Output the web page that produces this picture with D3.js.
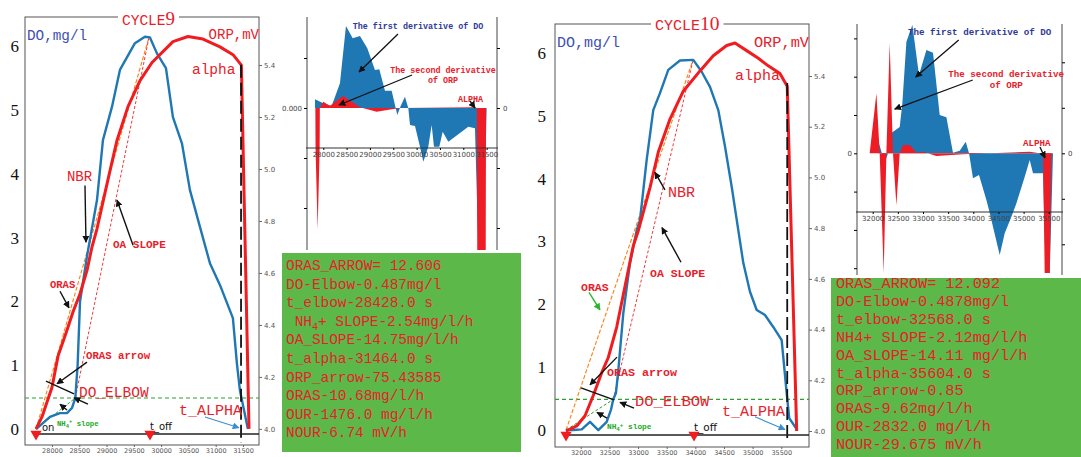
<!DOCTYPE html>
<html><head><meta charset="utf-8">
<script src="https://cdn.jsdelivr.net/npm/d3@7/dist/d3.min.js"></script>
<style>body{margin:0;background:#fff}svg{display:block}</style>
</head><body><svg id="c" width="1081" height="457"></svg>
<script>
// ================= DATA =================
const cycleNames = ["CYCLE9", "CYCLE10"];
const doTicks = [0, 1, 2, 3, 4, 5, 6];
const orpTicks = [4.0, 4.2, 4.4, 4.6, 4.8, 5.0, 5.2, 5.4];
const c9_xTicks = [28000, 28500, 29000, 29500, 30000, 30500, 31000, 31500];
const c10_xTicks = [32000, 32500, 33000, 33500, 34000, 34500, 35000, 35500];

// cycle 9 : DO (mg/l) and ORP (mV, scaled)
const c9_doT = [27708,27963,28147,28275,28366,28428,28470,28514,28640,28825,28934,29099,29245,29520,29703,29795,29923,30088,30216,30381,30527,30711,30894,31077,31315,31388,31443,31590];
const c9_doV = [0,0.19,0.25,0.25,0.33,0.49,1.0,2.0,2.7,3.59,4.53,5.05,5.63,6.05,6.15,6.14,5.89,5.66,4.89,4.48,3.75,3.17,2.60,2.26,1.74,1.03,0.61,0];
const c9_orpT = [27708,27817,28001,28111,28275,28385,28514,28642,28733,28825,29027,29191,29393,29613,29833,30217,30492,30767,31078,31317,31470,31610];
const c9_orpV = [4.0,4.046,4.16,4.28,4.38,4.45,4.52,4.61,4.70,4.77,4.96,5.11,5.24,5.34,5.41,5.49,5.51,5.50,5.47,5.44,5.40,4.0];
// cycle 9 derivatives
const c9_dDoT = [27822,28000,28179,28357,28486,28630,28786,28943,29107,29200,29322,29465,29586,29658,29750,29822,29858,29965,30072,30143,30250,30322,30372,30486,30558,30679,30822,30965,31107,31250,31322,31429,31500];
const c9_dDoV = [0.00087,0.00047,0.0002,0.00247,0.0082,0.00697,0.0072,0.00597,0.0038,0.00387,0.00173,0.00173,-0.0007,0.0002,0.00113,-0.00003,-0.0017,-0.0018,-0.00387,-0.00537,-0.00387,-0.0017,-0.00387,-0.00387,-0.00237,-0.00337,-0.00287,-0.00237,-0.00187,-0.00203,-0.014,-0.0145,0];
const c9_d2OrpT = [27830,27834,27879,27922,27926,28000,28143,28250,28429,28607,28786,29143,29465,29643,31250,31290,31300,31480,31486];
const c9_d2OrpV = [0,-0.67,-2.03,-0.67,0,0.105,0.033,0.105,0.2,0.105,0.012,-0.062,-0.022,0,0.012,0,-2.6,-2.6,0];

// cycle 10
const c10_doT = [31743,31870,32017,32162,32307,32453,32530,32568,32615,32656,32743,32860,32977,33034,33151,33266,33383,33528,33732,33964,34111,34256,34401,34518,34635,34750,34837,34954,35071,35216,35360,35507,35594,35639,35779];
const c10_doV = [0,0,0.01,0.13,0,0.13,0.33,0.49,0.59,0.95,1.86,2.66,3.18,3.34,4.30,5.09,5.36,5.73,5.88,5.89,5.70,5.46,5.09,4.51,3.87,3.18,2.66,2.20,1.91,1.83,1.64,1.43,0.59,0.19,0];
const c10_orpT = [31743,31930,32075,32219,32366,32481,32628,32772,32917,33005,33209,33354,33558,33790,34081,34313,34547,34692,34896,35099,35273,35477,35604,35769];
const c10_orpV = [4.0,4.02,4.06,4.14,4.23,4.29,4.41,4.57,4.73,4.79,4.96,5.10,5.23,5.34,5.42,5.48,5.52,5.53,5.50,5.47,5.44,5.41,5.36,4.0];
const c10_dDoT = [32105,32239,32304,32372,32537,32590,32670,32789,32920,33068,33199,33332,33465,33596,33730,33849,33915,33994,34113,34260,34312,34525,34624,34757,34857,35022,35121,35187,35386,35439,35519,35584];
const c10_dDoV = [0.00174,-0.00127,0,0.00265,0.00343,0.00656,0.01456,0.01674,0.01022,0.01348,0.01313,0.005,0.0047,0.00008,0.00034,0.00151,0,-0.00326,-0.00283,-0.0061,-0.0074,-0.01327,-0.01044,-0.00827,-0.00653,-0.00305,-0.00087,-0.00261,-0.00261,-0.01562,-0.01562,0];
const c10_d2OrpT = [31940,32074,32139,32219,32272,32338,32404,32471,32537,32602,32736,32869,33000,33266,33795,35121,35320,35386,35419,35519,35553];
const c10_d2OrpV = [0,1.32,0,-2.63,0,2.42,0,-1.14,0,0.18,0.18,0.01,0.035,-0.06,-0.02,0.035,0,0,-2.63,-2.63,0];

// key times / values
const c9_events = {tOn:27708, tOff:29796, tElbow:28428, doElbow:0.487, tPeak:29780, doPeak:6.15, tAlpha:31464};
const c10_events = {tOn:31744, tOff:33977, tElbow:32568, doElbow:0.4878, tPeak:33964, doPeak:5.90, tAlpha:35604};

// result boxes
const c9_results = ["ORAS_ARROW= 12.606","DO-Elbow-0.487mg/l","t_elbow-28428.0 s","NH4+ SLOPE-2.54mg/l/h","OA_SLOPE-14.75mg/l/h","t_alpha-31464.0 s","ORP_arrow-75.43585","ORAS-10.68mg/l/h","OUR-1476.0 mg/l/h","NOUR-6.74 mV/h"];
const c10_results = ["ORAS_ARROW= 12.092","DO-Elbow-0.4878mg/l","t_elbow-32568.0 s","NH4+ SLOPE-2.12mg/l/h","OA_SLOPE-14.11 mg/l/h","t_alpha-35604.0 s","ORP_arrow-0.85","ORAS-9.62mg/l/h","OUR-2832.0 mg/l/h","NOUR-29.675 mV/h"];

// ================= STYLE / LAYOUT =================
const RED = "#f01c20", TRED = "#e8202a", BLUE = "#1f77b4", LBLUE = "#3d4fb2", DBLUE = "#2e3a96";
const GREEN = "#2ca02c", ORANGE = "#ff7f0e", BOXG = "#5db84a";
const MONO = "'Liberation Mono','DejaVu Sans Mono',monospace";
const SANS = "'DejaVu Sans',sans-serif";
const SERIF = "'Liberation Serif','DejaVu Serif',serif";
const zip = (a, b) => a.map((d, i) => [d, b[i]]);

const svg = d3.select("#c");
const defs = svg.append("defs");
function marker(id, color) {
  defs.append("marker").attr("id", id).attr("viewBox", "0 0 10 10")
    .attr("refX", 9).attr("refY", 5).attr("markerUnits", "userSpaceOnUse")
    .attr("markerWidth", 7).attr("markerHeight", 7).attr("orient", "auto")
    .append("path").attr("d", "M0,0 L10,5 L0,10 z").attr("fill", color);
}
marker("ahK", "#111"); marker("ahB", "#3a8fd0"); marker("ahG", "#2db52d");

function txt(g, x, y, s, o = {}) {
  return g.append("text").attr("x", x).attr("y", y).text(s)
    .attr("font-family", o.font || MONO).attr("font-size", o.size || 12)
    .attr("font-weight", o.weight || "normal").attr("fill", o.color || TRED)
    .attr("text-anchor", o.anchor || "start");
}
function nh4(g, x, y, size, color, rest) {
  const t = g.append("text").attr("x", x).attr("y", y).attr("font-family", MONO)
    .attr("font-size", size).attr("font-weight", "bold").attr("fill", color);
  t.append("tspan").text("NH");
  t.append("tspan").text("4").attr("font-size", size * 0.75).attr("dy", size * 0.25);
  t.append("tspan").text("+").attr("font-size", size * 0.75).attr("dy", -size * 0.6);
  t.append("tspan").text(rest).attr("dy", size * 0.35);
  return t;
}

function mainPanel(p) {
  const g = svg.append("g");
  const x = d3.scaleLinear().domain(p.xDom).range([p.L, p.R]);
  const yD = d3.scaleLinear().domain(p.doDom).range([p.B, p.T]);
  const yO = d3.scaleLinear().domain(p.orpDom).range([p.B, p.T]);
  const ev = p.ev;
  g.append("rect").attr("x", p.L).attr("y", p.T).attr("width", p.R - p.L).attr("height", p.B - p.T)
    .attr("fill", "none").attr("stroke", "#555").attr("stroke-width", 1);
  // axes
  const la = g.append("g").attr("transform", `translate(${p.L},0)`)
    .call(d3.axisLeft(yD).tickValues(doTicks).tickSize(0).tickPadding(p.lpad).tickFormat(d3.format("d")));
  la.select(".domain").remove();
  la.selectAll("text").attr("font-family", SERIF).attr("font-size", p.lsize).attr("fill", "#111");
  const ra = g.append("g").attr("transform", `translate(${p.R},0)`)
    .call(d3.axisRight(yO).tickValues(orpTicks).tickSize(3).tickPadding(2).tickFormat(d3.format(".1f")));
  ra.select(".domain").remove();
  ra.selectAll("text").attr("font-family", SANS).attr("font-size", 7).attr("fill", "#555");
  ra.selectAll("line").attr("stroke", "#666");
  const ba = g.append("g").attr("transform", `translate(0,${p.B})`)
    .call(d3.axisBottom(x).tickValues(p.xTicks).tickSize(2).tickPadding(1).tickFormat(d3.format("d")));
  ba.select(".domain").remove();
  ba.selectAll("text").attr("font-family", SANS).attr("font-size", 6.5).attr("fill", "#555");
  ba.selectAll("line").attr("stroke", "#666");

  // reference lines
  g.append("line").attr("x1", p.L).attr("x2", p.R).attr("y1", yD(ev.doElbow)).attr("y2", yD(ev.doElbow))
    .attr("stroke", GREEN).attr("stroke-width", 1.1).attr("stroke-dasharray", "4,3");
  g.append("line").attr("x1", x(ev.tOn)).attr("x2", x(ev.tPeak)).attr("y1", yD(0)).attr("y2", yD(ev.doPeak))
    .attr("stroke", ORANGE).attr("stroke-width", 1.1).attr("stroke-dasharray", "4,2");
  g.append("line").attr("x1", x(ev.tElbow)).attr("x2", x(ev.tPeak)).attr("y1", yD(ev.doElbow)).attr("y2", yD(ev.doPeak))
    .attr("stroke", "#f03a3a").attr("stroke-width", 1).attr("stroke-dasharray", "3,2");
  g.append("line").attr("x1", x(ev.tOn)).attr("x2", x(ev.tElbow)).attr("y1", yD(0)).attr("y2", yD(ev.doElbow))
    .attr("stroke", GREEN).attr("stroke-width", 1).attr("stroke-dasharray", "3,2");

  // curves
  g.append("path").datum(zip(p.doT, p.doV)).attr("fill", "none").attr("stroke", BLUE).attr("stroke-width", 2.4)
    .attr("stroke-linejoin", "round").attr("d", d3.line().x(d => x(d[0])).y(d => yD(d[1])));
  g.append("path").datum(zip(p.orpT, p.orpV)).attr("fill", "none").attr("stroke", RED).attr("stroke-width", 3)
    .attr("stroke-linejoin", "round").attr("d", d3.line().x(d => x(d[0])).y(d => yO(d[1])));

  // alpha vertical dashed & base line
  g.append("line").attr("x1", x(ev.tAlpha)).attr("x2", x(ev.tAlpha)).attr("y1", yD(p.alphaTop)).attr("y2", yD(p.alphaBot))
    .attr("stroke", "#111").attr("stroke-width", 1.8).attr("stroke-dasharray", "13,5");
  g.append("line").attr("x1", x(ev.tOn)).attr("x2", p.R).attr("y1", yD(p.baseV)).attr("y2", yD(p.baseV))
    .attr("stroke", "#222").attr("stroke-width", 1.6);
  [ev.tOn, ev.tOff].forEach(t => {
    g.append("path").attr("d", d3.symbol(d3.symbolTriangle, 55)())
      .attr("transform", `translate(${x(t)},${yD(p.baseV)}) rotate(180)`).attr("fill", RED);
  });

  // arrows
  p.arrows.forEach(a => {
    const l = g.append("line").attr("x1", x(a[0])).attr("y1", yD(a[1])).attr("x2", x(a[2])).attr("y2", yD(a[3]))
      .attr("stroke", a[4] === "b" ? "#3a8fd0" : a[4] === "g" ? "#2db52d" : "#111")
      .attr("stroke-width", a[4] === "b" ? 1.1 : 1.4);
    if (a[4] !== "n") l.attr("marker-end", `url(#ah${a[4] === "b" ? "B" : a[4] === "g" ? "G" : "K"})`);
  });
  // labels
  p.labels.forEach(l => {
    if (l.nh4) nh4(g, x(l.t), yD(l.v), l.size, "#22aa22", " slope");
    else txt(g, x(l.t), yD(l.v), l.s, l);
  });

  // title with white background
  const bg = g.append("rect").attr("fill", "#fff");
  const tt = g.append("text").attr("x", x(p.titleT)).attr("y", yD(p.titleV)).attr("fill", TRED)
    .attr("font-family", MONO).attr("font-size", p.tsize);
  tt.append("tspan").text(p.name.replace(/\d+$/, ""));
  tt.append("tspan").text(p.name.match(/\d+$/)[0]).attr("font-family", SERIF).attr("font-size", p.tsize * 1.3);
  const bb = tt.node().getBBox();
  bg.attr("x", bb.x - 4).attr("y", p.T - 2).attr("width", bb.width + 8).attr("height", 4);
}

function inset(p) {
  const g = svg.append("g");
  const x = d3.scaleLinear().domain(p.xDom).range([p.L, p.R]);
  const y1 = d3.scaleLinear().domain([0, 0.005]).range([p.zero, p.zero - p.bstep]);
  const y2 = d3.scaleLinear().domain([0, 1]).range([p.zero, p.zero - p.rstep]);
  const cid = "clip" + p.id;
  defs.append("clipPath").attr("id", cid).append("rect").attr("x", p.L).attr("y", p.T).attr("width", p.R - p.L).attr("height", p.B - p.T);
  const pl = g.append("g").attr("clip-path", `url(#${cid})`);
  pl.append("path").datum(zip(p.dT, p.dV)).attr("fill", BLUE)
    .attr("d", d3.area().x(d => x(d[0])).y0(y1(0)).y1(d => y1(d[1])));
  pl.append("path").datum(zip(p.d2T, p.d2V)).attr("fill", "#ee1c25")
    .attr("d", d3.area().x(d => x(d[0])).y0(y2(0)).y1(d => y2(d[1])));
  // spines
  g.append("line").attr("x1", p.L).attr("x2", p.L).attr("y1", p.T).attr("y2", p.B).attr("stroke", "#444");
  g.append("line").attr("x1", p.R).attr("x2", p.R).attr("y1", p.T).attr("y2", p.B).attr("stroke", "#444");
  const ba = g.append("g").attr("transform", `translate(0,${p.axisY})`)
    .call(d3.axisBottom(x).tickValues(p.xTicks).tickSize(2).tickPadding(2).tickFormat(d3.format("d")));
  ba.select(".domain").attr("d", `M${p.L - 1},0H${p.R + 1}`).attr("stroke", "#333").attr("stroke-width", 1.2);
  ba.selectAll("text").attr("font-family", SANS).attr("font-size", 7).attr("fill", "#444");
  // left & right ticks
  const la = g.append("g").attr("transform", `translate(${p.L},0)`)
    .call(d3.axisLeft(y1).tickValues(p.lt).tickSize(3).tickPadding(2).tickFormat(d => d === 0 ? p.zlabel : ""));
  la.select(".domain").remove();
  la.selectAll("text").attr("font-family", SANS).attr("font-size", 7).attr("fill", "#444");
  const ra = g.append("g").attr("transform", `translate(${p.R},0)`)
    .call(d3.axisRight(y2).tickValues(p.rt).tickSize(3).tickPadding(3).tickFormat(d => d === 0 ? "0" : ""));
  ra.select(".domain").remove();
  ra.selectAll("text").attr("font-family", SANS).attr("font-size", 7).attr("fill", "#444");
  // annotations
  const fs = p.fs;
  txt(g, x(p.a1[0]), y1(p.a1[1]), "The first derivative of DO", {size: fs, weight: "bold", color: DBLUE, anchor: "middle"});
  txt(g, x(p.a2[0]), y1(p.a2[1]), "The second derivative", {size: fs, weight: "bold", anchor: "middle"});
  txt(g, x(p.a2[0]), y1(p.a2[2]), "of ORP", {size: fs, weight: "bold", anchor: "middle"});
  txt(g, x(p.a3[0]), y1(p.a3[1]), "ALPHA", {size: fs, weight: "bold", anchor: "middle"});
  p.arrows.forEach(a => {
    g.append("line").attr("x1", x(a[0])).attr("y1", y1(a[1])).attr("x2", x(a[2])).attr("y2", y1(a[3]))
      .attr("stroke", "#111").attr("stroke-width", 1.3).attr("marker-end", "url(#ahK)");
  });
}

function resultBox(b, lines) {
  const g = svg.append("g");
  g.append("rect").attr("x", b.x).attr("y", b.y).attr("width", b.w).attr("height", b.h).attr("fill", BOXG);
  lines.forEach((s, i) => {
    const yy = b.y0 + i * b.dy;
    if (b.sub && s.startsWith("NH4+")) {
      const t = g.append("text").attr("x", b.tx + b.size * 0.6).attr("y", yy).attr("font-family", MONO)
        .attr("font-size", b.size).attr("fill", TRED);
      t.append("tspan").text("NH");
      t.append("tspan").text("4").attr("font-size", b.size * 0.7).attr("dy", b.size * 0.3);
      t.append("tspan").text(s.slice(3)).attr("dy", -b.size * 0.3);
    } else {
      txt(g, b.tx, yy, s, {size: b.size});
    }
  });
}

// ================= PANELS =================
mainPanel({
  name: cycleNames[0], L: 25, R: 259, T: 17, B: 445, xDom: [27506, 31793], doDom: [-0.25, 6.46], orpDom: [3.938, 5.585],
  xTicks: c9_xTicks, doT: c9_doT, doV: c9_doV, orpT: c9_orpT, orpV: c9_orpV, ev: c9_events,
  alphaTop: 5.71, alphaBot: -0.22, baseV: -0.077, lpad: 6, lsize: 17, tsize: 14.5, titleT: 29283, titleV: 6.33,
  arrows: [[28605,3.82,28623,2.93,"k"],[29485,2.88,29191,3.59,"k"],[28147,2.16,28312,1.90,"k"],[28642,1.05,28092,0.71,"k"],
           [28660,0.39,28404,0.49,"k"],[28275,0.30,28147,0.39,"k"],[30804,0.19,31426,0.02,"b"],[27891,0.75,28404,0.55,"n"]],
  labels: [
    {s: "DO,mg/l", t: 27543, v: 6.10, size: 14.3, color: LBLUE},
    {s: "ORP,mV", t: 31793, v: 6.11, size: 14, anchor: "end"},
    {s: "alpha", t: 30565, v: 5.57, size: 14.5},
    {s: "NBR", t: 28275, v: 3.89, size: 14},
    {s: "OA SLOPE", t: 29118, v: 2.84, size: 11, weight: "bold"},
    {s: "ORAS", t: 27964, v: 2.21, size: 10.5, weight: "bold"},
    {s: "ORAS arrow", t: 28623, v: 1.10, size: 10.7, weight: "bold"},
    {s: "DO_ELBOW", t: 28495, v: 0.50, size: 14.5},
    {s: "t_ALPHA", t: 30327, v: 0.22, size: 15},
    {nh4: true, t: 28092, v: 0.05, size: 7.3},
    {s: "on", t: 27817, v: -0.03, size: 10, font: SANS, color: "#111"},
    {s: "t_off", t: 29796, v: -0.01, size: 10, font: SANS, color: "#111"}
  ]
});
mainPanel({
  name: cycleNames[1], L: 555, R: 809, T: 24, B: 447, xDom: [31551, 35984], doDom: [-0.27, 6.46], orpDom: [3.937, 5.605],
  xTicks: c10_xTicks, doT: c10_doT, doV: c10_doV, orpT: c10_orpT, orpV: c10_orpV, ev: c10_events,
  alphaTop: 5.52, alphaBot: -0.13, baseV: -0.08, lpad: 9, lsize: 17, tsize: 15, titleT: 33296, titleV: 6.37,
  arrows: [[33470,3.82,33296,4.10,"k"],[33750,2.67,33418,3.22,"k"],[32144,2.19,32336,1.91,"g"],[32633,1.16,32162,0.72,"k"],
           [32930,0.35,32685,0.44,"k"],[32458,0.19,32284,0.28,"k"],[35041,0.21,35564,0.01,"b"],[32005,0.67,32581,0.48,"n"]],
  labels: [
    {s: "DO,mg/l", t: 31586, v: 6.09, size: 15, color: LBLUE},
    {s: "ORP,mV", t: 35984, v: 6.09, size: 15.3, anchor: "end"},
    {s: "alpha", t: 34692, v: 5.57, size: 15},
    {s: "NBR", t: 33523, v: 3.71, size: 15},
    {s: "OA SLOPE", t: 33209, v: 2.43, size: 11.5, weight: "bold"},
    {s: "ORAS", t: 32005, v: 2.21, size: 11.5, weight: "bold"},
    {s: "ORAS arrow", t: 32458, v: 0.86, size: 11.7, weight: "bold"},
    {s: "DO_ELBOW", t: 32947, v: 0.38, size: 15.5},
    {s: "t_ALPHA", t: 34465, v: 0.22, size: 15},
    {nh4: true, t: 32458, v: 0.01, size: 7.8},
    {s: "t_off", t: 33977, v: -0.02, size: 10.5, font: SANS, color: "#111"}
  ]
});

inset({
  id: 1, L: 307, R: 497, T: 17, B: 250, axisY: 148, xDom: [27651, 31722], zero: 108, bstep: 50, rstep: 60,
  xTicks: c9_xTicks, dT: c9_dDoT, dV: c9_dDoV, d2T: c9_d2OrpT, d2V: c9_d2OrpV, zlabel: "0.000",
  lt: [0.005, 0, -0.005, -0.01], rt: [1, 0, -1, -2], fs: 8.4,
  a1: [30029, 0.0079], a2: [30565, 0.0035, 0.0025], a3: [31155, 0.0006],
  arrows: [[29601,0.0074,28765,0.0036],[29901,0.0033,28337,0.0003],[31144,0.0007,31251,0.0]]
});
inset({
  id: 2, L: 857, R: 1062, T: 24, B: 275, axisY: 212, xDom: [31688, 35763], zero: 153.3, bstep: 38.3, rstep: 45.5,
  xTicks: c10_xTicks, dT: c10_dDoT, dV: c10_dDoV, d2T: c10_d2OrpT, d2V: c10_d2OrpV, zlabel: "0",
  lt: [0.015, 0.01, 0.005, 0, -0.005, -0.01, -0.015], rt: [2, 1, 0, -1, -2], fs: 9.2,
  a1: [34127, 0.01544], a2: [34654, 0.00996, 0.00852], a3: [35260, 0.00095],
  arrows: [[33710,0.01479,32855,0.00996],[33988,0.00957,32437,0.00578],[35325,0.00082,35425,-0.0006]]
});

resultBox({x: 282, y: 253, w: 239, h: 199, tx: 286, y0: 270, dy: 18.6, size: 14.4, sub: true}, c9_results);
resultBox({x: 831, y: 278, w: 250, h: 179, tx: 836, y0: 288, dy: 17.9, size: 15.2, sub: false}, c10_results);
</script></body></html>
